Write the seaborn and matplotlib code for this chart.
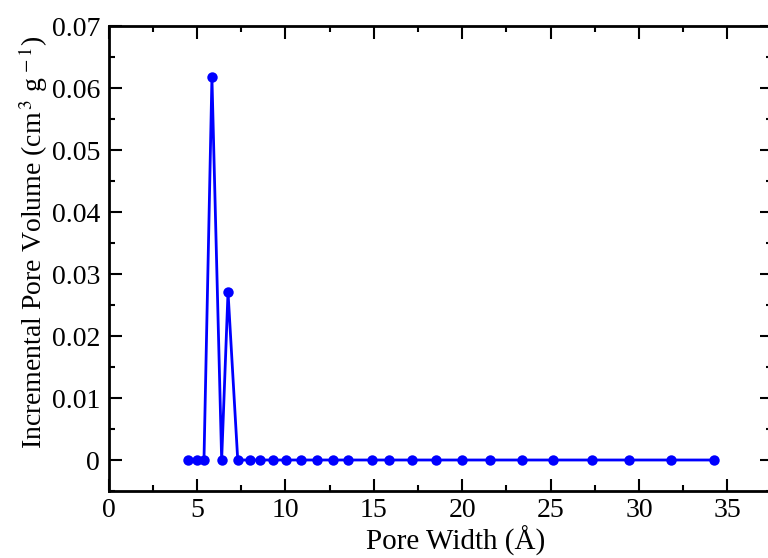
import matplotlib
matplotlib.use("Agg")
import matplotlib.pyplot as plt
from matplotlib.ticker import MultipleLocator, FuncFormatter
import seaborn as sns
import pandas as pd

pore_width = [4.51, 4.99, 5.40, 5.85, 6.40, 6.76, 7.31, 8.00, 8.57, 9.29, 10.04,
              10.87, 11.81, 12.68, 13.53, 14.89, 15.84, 17.18, 18.51, 19.98,
              21.60, 23.41, 25.14, 27.33, 29.46, 31.80, 34.26]
pore_volume = [0.0, 0.0, 0.0, 0.0617, 0.0, 0.0271, 0.0, 0.0, 0.0, 0.0, 0.0,
               0.0, 0.0, 0.0, 0.0, 0.0, 0.0, 0.0, 0.0, 0.0,
               0.0, 0.0, 0.0, 0.0, 0.0, 0.0, 0.0]

df = pd.DataFrame({"w": pore_width, "v": pore_volume})

sns.set_theme(style="ticks")
plt.rcParams["font.family"] = ["Liberation Serif", "DejaVu Serif"]
plt.rcParams["mathtext.fontset"] = "stix"

fig = plt.figure(figsize=(7.68, 5.58), dpi=100)
ax = fig.add_axes([108.5 / 768, (558 - 491) / 558, 663 / 768, 465 / 558])

sns.lineplot(data=df, x="w", y="v", ax=ax, color="#0000ff", linewidth=2,
             marker="o", markersize=7.5, markeredgewidth=0, sort=False)

ax.set_xlim(0, 37.5)
ax.set_ylim(-0.005, 0.07)
ax.xaxis.set_major_locator(MultipleLocator(5))
ax.xaxis.set_minor_locator(MultipleLocator(2.5))
ax.yaxis.set_major_locator(MultipleLocator(0.01))
ax.yaxis.set_minor_locator(MultipleLocator(0.005))
ax.xaxis.set_major_formatter(FuncFormatter(lambda v, p: f"{v:g}"))
ax.yaxis.set_major_formatter(FuncFormatter(lambda v, p: "0" if abs(v) < 1e-9 else f"{v:g}"))

ax.tick_params(which="both", direction="in", top=True, right=True, width=1.5,
               labelsize=20, colors="black")
ax.tick_params(which="major", length=9)
ax.tick_params(which="minor", length=4.5)
ax.tick_params(axis="x", pad=5)
ax.tick_params(axis="y", pad=6)
for s in ax.spines.values():
    s.set_linewidth(2)
    s.set_color("black")

ax.set_xlabel("Pore Width (Å)", fontsize=21, color="black")
ax.set_ylabel("Incremental Pore Volume (cm$^{\\,3}$ g$^{\\,-1}$)", fontsize=20, color="black")
ax.xaxis.set_label_coords(0.523, -0.075)
ax.yaxis.set_label_coords(-0.088, 0.535)

fig.savefig("out.png", dpi=100)
